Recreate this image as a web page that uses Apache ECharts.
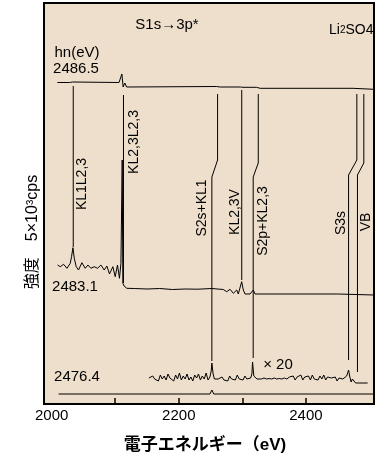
<!DOCTYPE html>
<html><head><meta charset="utf-8">
<script src="https://cdn.jsdelivr.net/npm/echarts@6/dist/echarts.min.js"></script>
<style>html,body{margin:0;padding:0;background:#fff}#c{width:389px;height:469px}</style>
</head><body><div id="c"></div>
<script>
// x axis: electron energy (eV); tick & label values
const xTickValues = [2100, 2200, 2300, 2400];
const xLabelValues = [2000, 2200, 2400];

// spectra: [electron energy (eV), intensity offset (arb.)]
const spec2486_5 = [[2009,321.5],[2028,321.5],[2031,323],[2033,322],[2036,321.5],[2106,321.5],[2108,322.5],[2110.5,330],[2112.5,317],[2115,321],[2118,317],[2259,317.5],[2262,319.5],[2265,317],[2297,317],[2299,318],[2301,316.7],[2322,316.7],[2325,318.5],[2328,315.7],[2474,315.7],[2475,314.7],[2507,314.7]];

const spec2483_1 = [[2009.3,139],[2013.6,137.3],[2018.8,139.7],[2024.1,135.7],[2029.3,140.7],[2031.3,147.3],[2033.5,156.3],[2035.6,145.7],[2038.7,137.3],[2042.3,134],[2047.6,141.3],[2052.8,135.7],[2057.1,139],[2061.8,135.7],[2067,137.3],[2072.2,135.7],[2077.5,139],[2082.7,134],[2086.9,138],[2091,130],[2096.3,137.3],[2100,127.3],[2103.6,139],[2106.7,125.7],[2109,140.7],[2111,244],[2112,120.7],[2114,118],[2118.3,115.7],[2130,115.5],[2150,115],[2170,115.5],[2190,114.5],[2210,115],[2230,114.8],[2252,115.5],[2270,114.5],[2275.4,112.3],[2280.6,114.7],[2285.8,110.7],[2291.1,114],[2293.6,110],[2298.9,122.3],[2301.5,114],[2304.1,110],[2312,110],[2317.2,114],[2319.8,110],[2450,110],[2452,109],[2507,109]];

const spec2476_4x20 = [[2153,26],[2156,24],[2159,28],[2162,25],[2165,27],[2168,23],[2171,29],[2174,25],[2177,28],[2180,24],[2183,30],[2186,26],[2189,27],[2192,23],[2195,29],[2198,25],[2201,31],[2204,24],[2207,28],[2210,25],[2213,30],[2216,24],[2219,27],[2222,23],[2225,29],[2228,26],[2231,30],[2234,24],[2237,28],[2240,25],[2243,31],[2246,24],[2249,27],[2251,33],[2252,41],[2254,30],[2256,25],[2259,23],[2262,25],[2265,24],[2268,27],[2271,24],[2274,26],[2277,23],[2280,28],[2283,25],[2286,27],[2289,24],[2292,29],[2295,25],[2298,26],[2301,24],[2304,28],[2307,25],[2310,24],[2313,26],[2315,30],[2316,42],[2318,28],[2320,26],[2323,25],[2326,26],[2330,25],[2334,26],[2338,25],[2342,25.5],[2346,25],[2350,26],[2354,25],[2358,25.5],[2362,25],[2366,26],[2370,25],[2374,27],[2377,25],[2380,28],[2383,24],[2386,27],[2389,25],[2392,29],[2395,24],[2398,27],[2401,25],[2404,28],[2407,24],[2410,29],[2413,25],[2416,27],[2419,24],[2422,28],[2425,25],[2428,29],[2431,24],[2434,27],[2437,25],[2440,26],[2443,24],[2446,27],[2449,23],[2452,26],[2455,24],[2458,25],[2461,24],[2464,28],[2467,34],[2469,27],[2471,22],[2473,25],[2475,23],[2478,21],[2481,21],[2497,21]];

const spec2476_4x1 = [[2011,10],[2249,10],[2252,14],[2255,10],[2315,10],[2316,11.5],[2317,10],[2507,10]];

// peak assignment guide lines
const guideKL1L23 = [[2034,318],[2034,157]];
const guideKL23L23 = [[2113,309],[2113,121]];
const guideS2sKL1 = [[2261,310],[2261,244],[2252,227],[2252,43]];
const guideKL23V = [[2299,314],[2299,124]];
const guideS2pKL23 = [[2325,310],[2325,241],[2317,227],[2317,46]];
const guideS3s = [[2480,310],[2480,244],[2467,229],[2467,44]];
const guideVB = [[2491,310],[2491,241],[2481,229],[2481,32]];

const FONT = "'Liberation Sans', Arial, 'Noto Sans CJK JP', sans-serif";
const chart = echarts.init(document.getElementById('c'), null, {renderer: 'canvas'});

function lineSeries(data){
  return {type:'line', data:data, symbol:'none', silent:true, animation:false,
    lineStyle:{color:'#000', width:1}};
}
const allSeries = [spec2486_5, spec2483_1, spec2476_4x20, spec2476_4x1,
  guideKL1L23, guideKL23L23, guideS2sKL1, guideKL23V, guideS2pKL23, guideS3s, guideVB].map(lineSeries);

function txt(text, x, y, size, rot, extra){
  return Object.assign({type:'text', x:x, y:y, rotation: rot||0, silent:true,
    style:{text:text, font: (size||14)+'px '+FONT, fill:'#000',
      align:'center', verticalAlign:'middle', textAlign:'center', textVerticalAlign:'middle'}}, extra||{});
}
const R = Math.PI/2;

chart.setOption({
  animation:false,
  backgroundColor:'#fff',
  grid:{left:44, right:15, top:3, bottom:65, show:true, backgroundColor:'#EEDFCC', borderColor:'#000', borderWidth:2},
  xAxis:{type:'value', min:1988, max:2507,
    axisLine:{show:false}, splitLine:{show:false},
    axisTick:{show:true, inside:true, length:6, customValues:xTickValues, lineStyle:{color:'#000', width:1.5}},
    axisLabel:{show:true, customValues:xLabelValues, color:'#000', fontSize:15, fontFamily:FONT, margin:4,
      formatter:function(v){return String(v);}}},
  yAxis:{type:'value', min:0, max:401, show:false},
  series: allSeries,
  graphic:[
    txt('S1s→3p*', 167, 25, 15),
    {type:'text', x:329, y:30, silent:true, style:{rich:{a:{fontSize:14,fontFamily:FONT,fill:'#000'}, s:{fontSize:10,fontFamily:FONT,fill:'#000'}},
      text:'{a|Li}{s|2}{a|SO4}', verticalAlign:'middle', textVerticalAlign:'middle'}},
    txt('hn(eV)', 77, 53, 15),
    txt('2486.5', 76, 69, 15),
    txt('2483.1', 75, 287, 15),
    txt('2476.4', 77, 377, 15),
    txt('× 20', 278, 365, 15),
    txt('KL1L2,3', 82, 184, 14, R),
    txt('KL2,3L2,3', 134, 142, 14, R),
    txt('S2s+KL1', 202, 208, 14, R),
    txt('KL2,3V', 235, 212, 14, R),
    txt('S2p+KL2,3', 263, 221, 14, R),
    txt('S3s', 341, 223, 14, R),
    txt('VB', 366, 222, 14, R),
    txt('強度　5×10³cps', 33, 232, 16, R),
    {type:'text', x:205, y:445, silent:true, style:{text:'電子エネルギー（eV)', font:'bold 17px '+FONT, fill:'#000', align:'center', verticalAlign:'middle', textAlign:'center', textVerticalAlign:'middle'}}
  ]
});
</script></body></html>
